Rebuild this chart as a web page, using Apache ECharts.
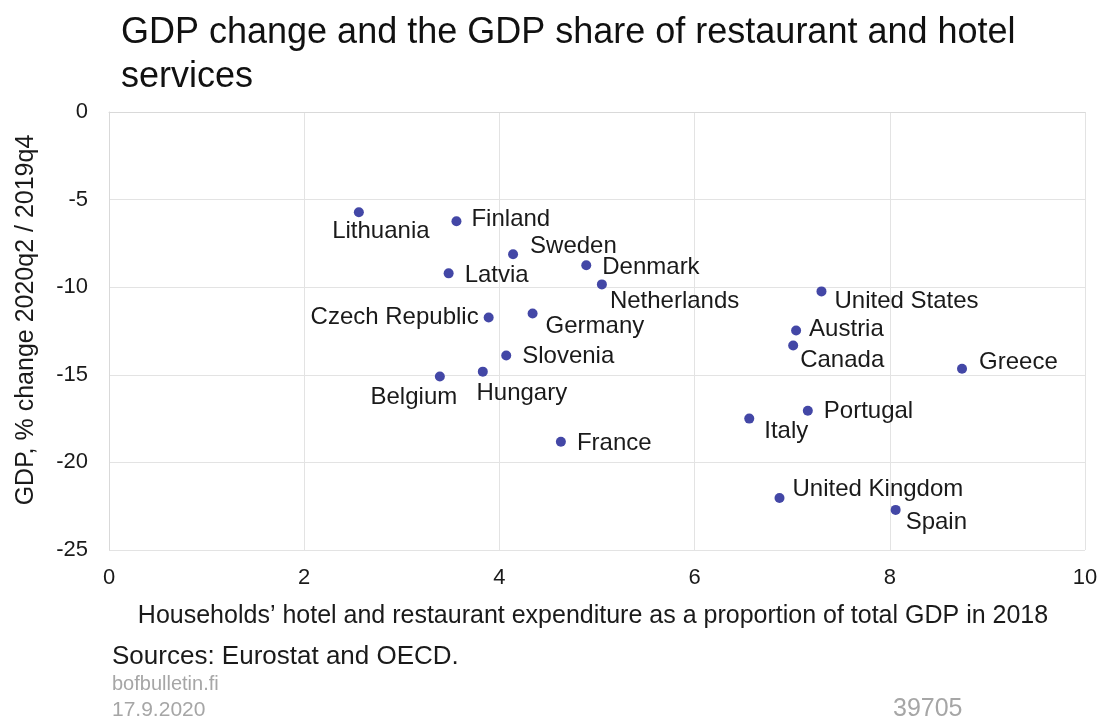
<!DOCTYPE html>
<html>
<head>
<meta charset="utf-8">
<script src="https://cdn.jsdelivr.net/npm/echarts@6/dist/echarts.min.js"></script>
<style>
html,body{margin:0;padding:0;background:#fff;}
#c{width:1102px;height:722px;}
</style>
</head>
<body>
<div id="c"></div>
<script>
const countries = ['Lithuania','Finland','Sweden','Latvia','Denmark','Netherlands','United States','Czech Republic','Germany','Austria','Canada','Slovenia','Greece','Belgium','Hungary','Portugal','Italy','France','United Kingdom','Spain'];
const shareOfGDP = [2.56,3.56,4.14,3.48,4.89,5.05,7.30,3.89,4.34,7.04,7.01,4.07,8.74,3.39,3.83,7.16,6.56,4.63,6.87,8.06];
const gdpChange = [-5.72,-6.24,-8.12,-9.21,-8.75,-9.84,-10.24,-11.73,-11.50,-12.47,-13.33,-13.90,-14.65,-15.10,-14.82,-17.05,-17.50,-18.82,-22.03,-22.71];
const xTicks = [0,2,4,6,8,10];
const yTicks = [0,-5,-10,-15,-20,-25];

// label placement (style only): [dx, dy, align] from the point centre
const labelPlace = {
  'Lithuania':[22,19,'center'],'Finland':[15,-2,'left'],'Sweden':[17,-8,'left'],'Latvia':[16,2,'left'],
  'Denmark':[16,2,'left'],'Netherlands':[8,17,'left'],'United States':[13,10,'left'],'Czech Republic':[-10,0,'right'],
  'Germany':[13,13,'left'],'Austria':[13,-1,'left'],'Canada':[7,15,'left'],'Slovenia':[16,1,'left'],
  'Greece':[17,-6,'left'],'Belgium':[-26,21,'center'],'Hungary':[39,22,'center'],'Portugal':[16,1,'left'],
  'Italy':[15,13,'left'],'France':[16,2,'left'],'United Kingdom':[13,-9,'left'],'Spain':[10,12,'left']
};

const FONT = '"Liberation Sans", Arial, sans-serif';
const SYM = 10;
const data = countries.map((n,i)=>{
  const p = labelPlace[n];
  return {
    name:n, value:[shareOfGDP[i], gdpChange[i]],
    label:{show:true, position:[SYM/2+p[0], SYM/2+p[1]], align:p[2], verticalAlign:'middle',
      formatter:'{b}', color:'#1a1a1a', fontSize:24, fontFamily:FONT}
  };
});

const chart = echarts.init(document.getElementById('c'), null, {renderer:'canvas'});
chart.setOption({
  backgroundColor:'#fff',
  animation:false,
  title:{text:'GDP change and the GDP share of restaurant and hotel\nservices', left:116, top:6,
    textStyle:{fontSize:36, fontWeight:'normal', color:'#111', fontFamily:FONT, lineHeight:44}},
  grid:{left:109, right:17, top:112, bottom:172, containLabel:false},
  xAxis:{type:'value', min:xTicks[0], max:xTicks[xTicks.length-1], interval:2,
    name:'Households\u2019 hotel and restaurant expenditure as a proportion of total GDP in 2018',
    nameLocation:'middle', nameGap:54,
    nameTextStyle:{fontSize:25, color:'#1a1a1a', fontFamily:FONT, padding:[0,8,0,0]},
    axisLine:{show:true, lineStyle:{color:'#d9d9d9'}}, axisTick:{show:false},
    axisLabel:{fontSize:22, color:'#1a1a1a', fontFamily:FONT, margin:17},
    splitLine:{show:true, lineStyle:{color:'#e3e3e3'}}},
  yAxis:{type:'value', min:yTicks[yTicks.length-1], max:yTicks[0], interval:5,
    axisLine:{show:true, lineStyle:{color:'#d9d9d9'}}, axisTick:{show:false},
    axisLabel:{fontSize:22, color:'#1a1a1a', fontFamily:FONT, margin:21},
    splitLine:{show:true, lineStyle:{color:'#e3e3e3'}}},
  series:[{type:'scatter', symbol:'circle', symbolSize:SYM, itemStyle:{color:'#4347A6', opacity:1}, data:data,
    labelLayout:{hideOverlap:false}}],
  graphic:[
    {type:'text', x:26, y:320, rotation:Math.PI/2,
      style:{text:'GDP, % change 2020q2 / 2019q4', fontSize:25, fill:'#1a1a1a', fontFamily:FONT, align:'center', verticalAlign:'middle'}},
    {type:'text', left:112, top:644, style:{text:'Sources: Eurostat and OECD.', fontSize:26, fill:'#1a1a1a', fontFamily:FONT}},
    {type:'text', left:112, top:674, style:{text:'bofbulletin.fi', fontSize:20, fill:'#a6a6a6', fontFamily:FONT}},
    {type:'text', left:112, top:700, style:{text:'17.9.2020', fontSize:21, fill:'#a6a6a6', fontFamily:FONT}},
    {type:'text', left:893, top:697, style:{text:'39705', fontSize:25, fill:'#a6a6a6', fontFamily:FONT}}
  ]
});
</script>
</body>
</html>
